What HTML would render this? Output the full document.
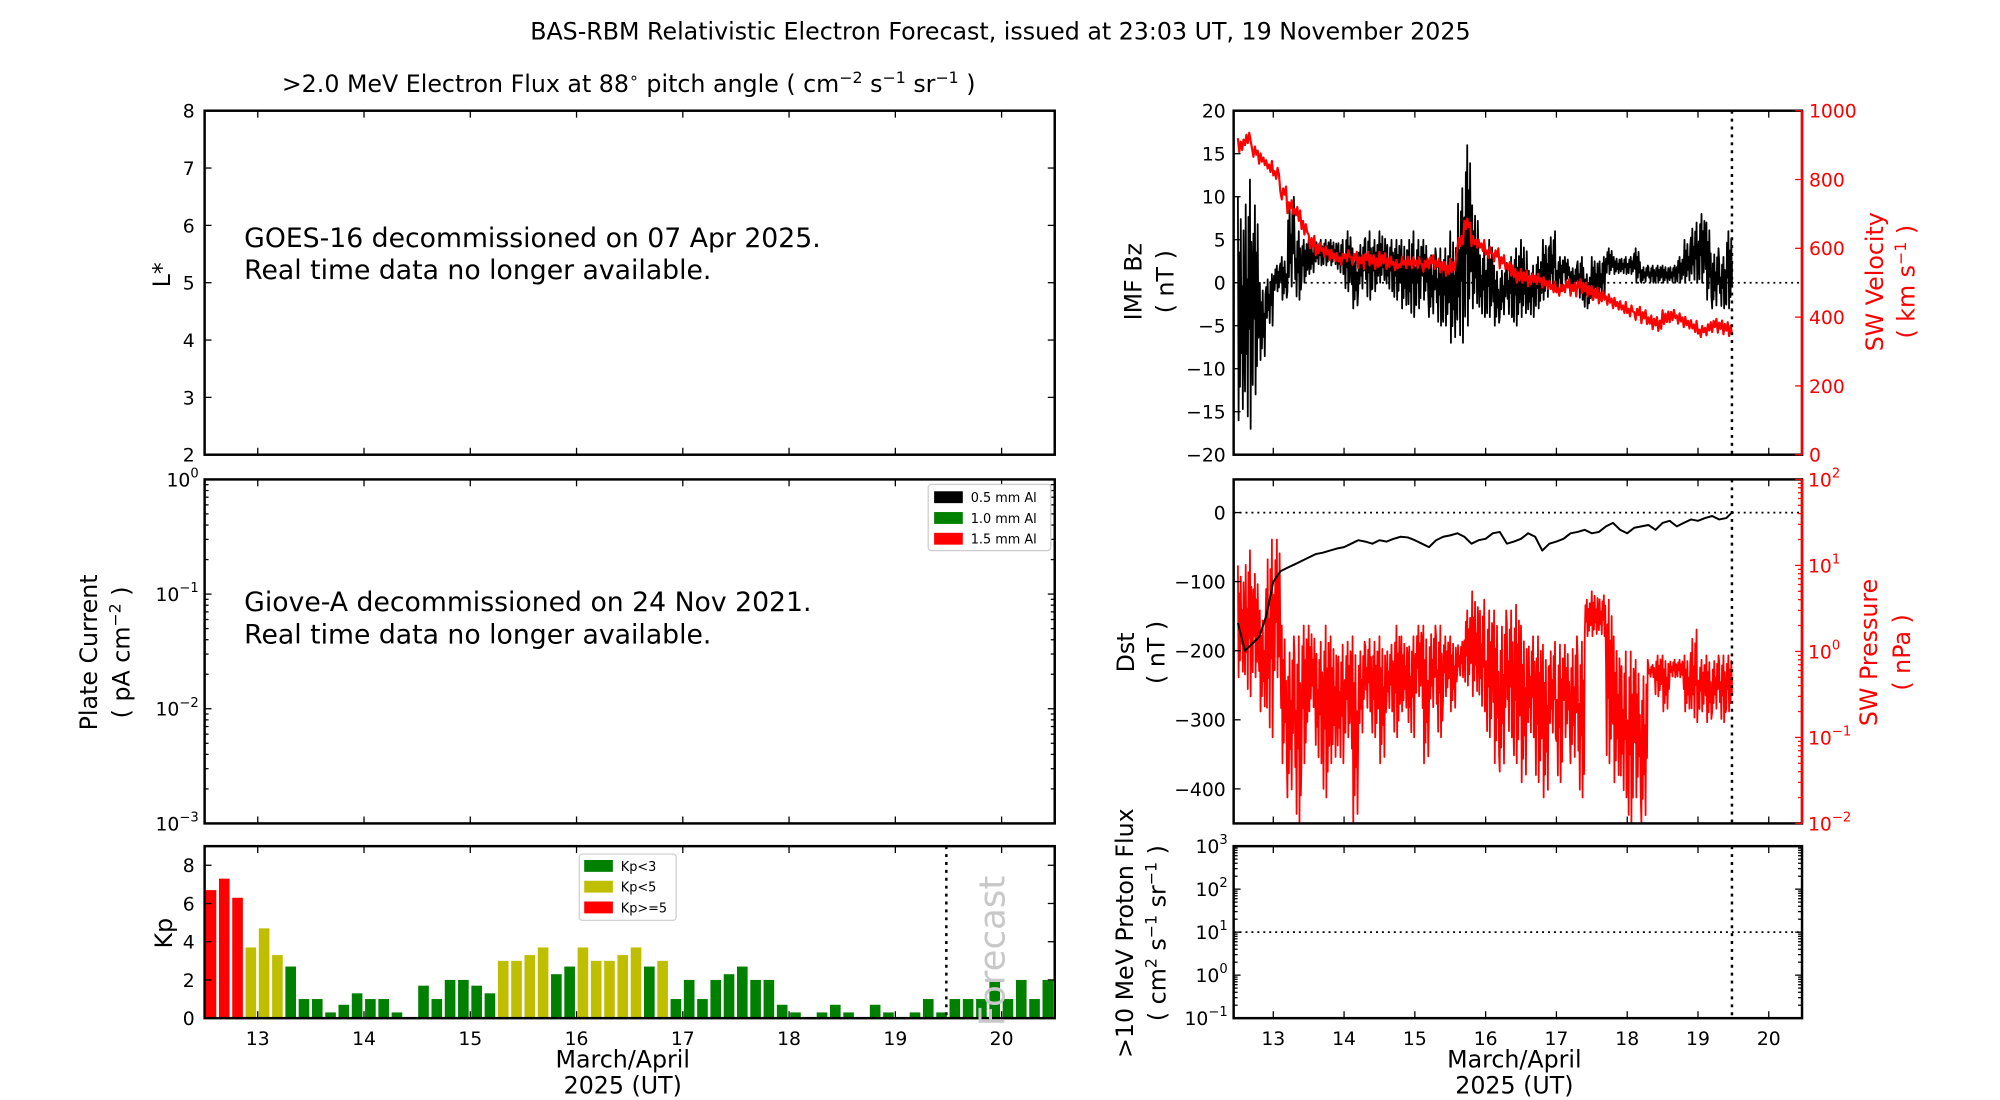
<!DOCTYPE html>
<html><head><meta charset="utf-8"><style>
html,body{margin:0;padding:0;background:#fff;width:2000px;height:1100px;overflow:hidden}
svg text{font-family:"DejaVu Sans","Liberation Sans",sans-serif}
</style></head><body>
<svg id="fig" width="2000" height="1100" viewBox="0 0 2000 1100" xmlns="http://www.w3.org/2000/svg">
<g transform="scale(0.9885)">
<text x="1012" y="40" font-size="24" text-anchor="middle">BAS-RBM Relativistic Electron Forecast, issued at 23:03 UT, 19 November 2025</text>
<text x="636" y="93" font-size="24" text-anchor="middle">&gt;2.0 MeV Electron Flux at 88<tspan dy="-9" font-size="16">∘</tspan><tspan dy="9"> pitch angle ( cm</tspan><tspan dy="-9" font-size="16">−2</tspan><tspan dy="9"> s</tspan><tspan dy="-9" font-size="16">−1</tspan><tspan dy="9"> sr</tspan><tspan dy="-9" font-size="16">−1</tspan><tspan dy="9"> )</tspan></text>
<g id="g"></g>
</g>
</svg>
<script>
// ---------- data ----------
const kpValues=[6.7,7.3,6.3,3.7,4.7,3.3,2.7,1,1,0.3,0.7,1.3,1,1,0.3,0,1.7,1,2,2,1.7,1.3,3,3,3.3,3.7,2.3,2.7,3.7,3,3,3.3,3.7,2.7,3,1,2,1,2,2.3,2.7,2,2,0.7,0.3,0,0.3,0.7,0.3,0,0.7,0.3,0,0.3,1,0.3,1,1,1,2,1,2,1,2];
const kpStart=12.5, kpStep=0.125;
const xTicks=[13,14,15,16,17,18,19,20];
const seriesStart=12.5, seriesStep=0.1;
const bzHi=[10,12,9,0,1,2,3,10,6,5,5,5,5,5,5,6,4,5,6,5,6,5,5,5,6,5,5,4,4,4,6,11,16,9,4,5,2,2,3,4,5,2,3,5,6,3,3,2,3,1,3,3,4,3,3,3,4,2,2,2,2,2,3,5,7,8,7,4,3,6,5];
const bzLo=[-16,-17,-13,-9,-5,-1,-2,-1,-2,0,1,2,2,2,1,-1,-3,-1,-2,-1,0,-1,-2,-3,-4,-3,-2,-4,-5,-5,-7,-7,-5,-3,-4,-4,-5,-4,-4,-5,-4,-4,-3,-2,-1,-1,0,-1,-2,-3,-2,-2,1,1,1,1,0,0,0,0,0,0,0,0,0,0,-2,-3,-3,-3,-3];
const velocity=[900,920,880,860,840,820,760,720,700,660,620,600,590,580,570,580,570,560,570,560,570,560,550,560,560,560,550,560,550,540,550,620,670,620,610,590,580,560,540,520,520,510,510,500,490,480,490,480,490,480,470,460,450,440,430,420,410,400,385,380,400,405,395,385,375,360,365,375,370,365,370];
const dst=[-160,-200,-190,-180,-150,-100,-85,-80,-75,-70,-65,-60,-58,-55,-52,-50,-45,-40,-42,-45,-40,-42,-38,-35,-36,-40,-45,-50,-40,-35,-33,-30,-35,-45,-40,-38,-30,-28,-45,-42,-38,-30,-35,-55,-45,-42,-38,-30,-28,-25,-30,-28,-20,-15,-25,-30,-22,-20,-18,-25,-15,-12,-20,-15,-10,-12,-8,-5,-10,-8,0];
const presHi=[10,15,8,3,20,20,2,1.5,1.5,2,2,1.3,2,1.5,1.2,1.3,1.5,1.3,1.4,1.3,1.5,1.2,2,1.5,1.5,2,2,2,2,1.5,1.5,1.3,3,5,4,3,3,3,3,3.5,2,1.5,1.5,1.2,1.3,1.2,1.2,1.5,1.3,4,5,4.5,4,1.5,1,1,0.8,0.8,0.7,0.9,0.9,0.8,0.8,0.9,1.8,0.8,0.9,0.9,0.9,0.9,0.9];
const presLo=[0.5,0.3,0.5,0.2,0.1,0.5,0.05,0.02,0.01,0.05,0.2,0.05,0.02,0.05,0.05,0.1,0.01,0.1,0.2,0.1,0.05,0.2,0.1,0.2,0.1,0.3,0.05,0.2,0.1,0.3,0.2,0.5,0.4,0.3,0.2,0.1,0.05,0.04,0.1,0.05,0.03,0.1,0.03,0.02,0.1,0.03,0.1,0.05,0.02,1.5,1.5,1.5,0.05,0.03,0.02,0.01,0.02,0.01,0.5,0.3,0.2,0.5,0.5,0.2,0.15,0.2,0.15,0.2,0.15,0.2,0.3];
const forecastT=19.48;
// ---------- helpers ----------
const NS="http://www.w3.org/2000/svg";
const G=document.getElementById('g');
const JIT=[1,0,0.75,0.15,0.9,0.3,0.6,0.05,0.85,0.4];
function el(tag,attrs,parent){const e=document.createElementNS(NS,tag);for(const k in attrs)e.setAttribute(k,attrs[k]);(parent||G).appendChild(e);return e;}
function txt(x,y,s,size,anchor,color,rot){const t=el('text',{x:x,y:y,'font-size':size,'text-anchor':anchor||'middle',fill:color||'#000'});if(rot)t.setAttribute('transform','rotate(-90 '+x+' '+y+')');t.textContent=s;return t;}
function lin(d0,d1,r0,r1){return v=>r0+(v-d0)/(d1-d0)*(r1-r0);}
function logs(d0,d1,r0,r1){return v=>r0+(Math.log10(Math.max(v,1e-9))-Math.log10(d0))/(Math.log10(d1)-Math.log10(d0))*(r1-r0);}
function supLabel(x,y,base,exp,size,color,anchor){const t=el('text',{x:x,y:y,'font-size':size,'text-anchor':anchor||'end',fill:color||'#000'});const a=el('tspan',{},t);a.textContent=base;const b=el('tspan',{dy:-9,'font-size':size*0.7},t);b.textContent=exp;return t;}
function frame(x0,y0,x1,y1,name){const r=el('rect',{x:x0,y:y0,width:x1-x0,height:y1-y0,fill:'none',stroke:'#000','stroke-width':2.5});}
function xTickMarks(sx,y0,y1,labels){xTicks.forEach(d=>{const x=sx(d);el('line',{x1:x,x2:x,y1:y1,y2:y1-7,stroke:'#000','stroke-width':1.3});el('line',{x1:x,x2:x,y1:y0,y2:y0+7,stroke:'#000','stroke-width':1.3});if(labels){const t=txt(x,y1+27,String(d),19);}});}
function yTick(x,y,side,len,color){el('line',{x1:x,x2:x+side*len,y1:y,y2:y,stroke:color||'#000','stroke-width':1.3});}
function polyline(pts,color,w,name){const p=el('polyline',{points:pts.map(p=>p[0].toFixed(1)+','+p[1].toFixed(1)).join(' '),fill:'none',stroke:color,'stroke-width':w,'stroke-linejoin':'round'});return p;}
function zig(hi,lo,sx,sy,isLog){const pts=[];const n=Math.min(hi.length,lo.length);let k=0;
for(let i=0;i<n;i++){const t=seriesStart+i*seriesStep;if(t>forecastT)break;
for(let j=0;j<10;j++){const tt=Math.min(t+j*0.01,forecastT);const f=JIT[(j+k)%10];let v;
if(isLog)v=Math.pow(10,Math.log10(lo[i])+f*(Math.log10(hi[i])-Math.log10(lo[i])));else v=lo[i]+f*(hi[i]-lo[i]);
pts.push([sx(tt),sy(v)]);}k+=3;}return pts;}

// ---------- LEFT PANELS ----------
const LX0=207,LX1=1067;
const lx=lin(12.5,20.5,LX0,LX1);
(function(){const y0=112,y1=460;const sy=lin(2,8,y1,y0);
frame(LX0,y0,LX1,y1,'flux-panel');
for(let v=2;v<=8;v++){yTick(LX0,sy(v),1,7);yTick(LX1,sy(v),-1,7);const t=txt(LX0-10,sy(v)+7,String(v),19,'end');}
xTickMarks(lx,y0,y1,false);
let t=txt(172,278,'L*',24,'middle','#000',true);
t=txt(247,250,'GOES-16 decommissioned on 07 Apr 2025.',27,'start');
t=txt(247,282,'Real time data no longer available.',27,'start');
})();
(function(){const y0=485,y1=833;const sy=logs(1e-3,1,y1,y0);
frame(LX0,y0,LX1,y1,'plate-current-panel');
[-3,-2,-1,0].forEach(e=>{const y=sy(Math.pow(10,e));yTick(LX0,y,1,7);yTick(LX1,y,-1,7);supLabel(LX0-6,y+7,'10',String(e).replace('-','−'),19);
if(e<0)for(let m=2;m<10;m++){const ym=sy(m*Math.pow(10,e));yTick(LX0,ym,1,4);yTick(LX1,ym,-1,4);}});
xTickMarks(lx,y0,y1,false);
let t=txt(98,660,'Plate Current',24,'middle','#000',true);
const t2=el('text',{x:131,y:660,'font-size':24,'text-anchor':'middle',transform:'rotate(-90 131 660)'});t2.innerHTML='( pA cm<tspan dy="-9" font-size="16">−2</tspan><tspan dy="9"> )</tspan>';
t=txt(247,618,'Giove-A decommissioned on 24 Nov 2021.',27,'start');
t=txt(247,651,'Real time data no longer available.',27,'start');
const lg=el('g',{});
el('rect',{x:939,y:490,width:124,height:67,fill:'#fff',stroke:'#ccc','stroke-width':1.2,rx:3},lg);
[['0.5 mm Al','#000'],['1.0 mm Al','#008000'],['1.5 mm Al','#ff0000']].forEach((a,i)=>{const r=el('rect',{x:945,y:497+i*21,width:29,height:12,fill:a[1]},lg);const tt=el('text',{x:982,y:508+i*21,'font-size':13},lg);tt.textContent=a[0];});
})();
(function(){const y0=856,y1=1030;const sy=lin(0,9,y1,y0);
kpValues.forEach((v,i)=>{const t=kpStart+i*kpStep;const c=v>=5?'#ff0000':(v>=3?'#bfbf00':'#008000');const x=lx(t+0.01);const w=lx(t+0.11)-x;
const b=el('rect',{x:x,y:sy(v),width:w,height:y1-sy(v),fill:c});

});
frame(LX0,y0,LX1,y1,'kp-panel');
[0,2,4,6,8].forEach(v=>{yTick(LX0,sy(v),1,7);yTick(LX1,sy(v),-1,7);const t=txt(LX0-10,sy(v)+7,String(v),19,'end');});
xTickMarks(lx,y0,y1,true);
const fx=lx(forecastT);const fl=el('line',{x1:fx,x2:fx,y1:y0,y2:y1,stroke:'#000','stroke-width':2.5,'stroke-dasharray':'3,5'});
let t=txt(1016,962,'Forecast',36,'middle','#c8c8c8',true);
t=txt(174,944,'Kp',24,'middle','#000',true);
t=txt(630,1080,'March/April',24);
t=txt(630,1106,'2025 (UT)',24);
const lg=el('g',{});
el('rect',{x:586,y:864,width:98,height:67,fill:'#fff',stroke:'#ccc','stroke-width':1.2,rx:3},lg);
[['Kp<3','#008000'],['Kp<5','#bfbf00'],['Kp>=5','#ff0000']].forEach((a,i)=>{const r=el('rect',{x:591,y:870+i*21,width:29,height:12,fill:a[1]},lg);const tt=el('text',{x:628,y:881+i*21,'font-size':13},lg);tt.textContent=a[0];});
})();

// ---------- RIGHT PANELS ----------
const RX0=1248,RX1=1823;
const rx=lin(12.44,20.47,RX0,RX1);
function fcLine(y0,y1){const fx=rx(forecastT);const l=el('line',{x1:fx,x2:fx,y1:y0,y2:y1,stroke:'#000','stroke-width':2.5,'stroke-dasharray':'3,5'});}
function zeroLine(y){const l=el('line',{x1:RX0,x2:RX1,y1:y,y2:y,stroke:'#000','stroke-width':1.8,'stroke-dasharray':'2,4'});}
(function(){const y0=112,y1=460;const sy=lin(-20,20,y1,y0);const sv=lin(0,1000,y1,y0);
zeroLine(sy(0));
polyline(zig(bzHi,bzLo,rx,sy,false),'#000',1.8,'imf-bz-line');
const vpts=[];velocity.forEach((v,i)=>{const t=seriesStart+i*seriesStep;if(t>forecastT)return;for(let j=0;j<5;j++){vpts.push([rx(Math.min(t+j*0.02,forecastT)),sv(v+(JIT[(i+j)%10]-0.5)*40)]);}});
polyline(vpts,'#ff0000',2.2,'sw-velocity-line');
fcLine(y0,y1);
frame(RX0,y0,RX1,y1,'imf-panel');
el('line',{x1:RX1,x2:RX1,y1:y0,y2:y1,stroke:'#ff0000','stroke-width':2.5});
[-20,-15,-10,-5,0,5,10,15,20].forEach(v=>{yTick(RX0,sy(v),1,7);const t=txt(RX0-8,sy(v)+7,String(v).replace('-','−'),19,'end');});
[0,200,400,600,800,1000].forEach(v=>{yTick(RX1,sv(v),-1,7,'#ff0000');const t=txt(RX1+7,sv(v)+7,String(v),19,'start','#ff0000');});
xTickMarks(rx,y0,y1,false);
let t=txt(1155,285,'IMF Bz',24,'middle','#000',true);
t=txt(1187,285,'( nT )',24,'middle','#000',true);
t=txt(1905,285,'SW Velocity',24,'middle','#ff0000',true);
const u=el('text',{x:1937,y:285,'font-size':24,'text-anchor':'middle',fill:'#ff0000',transform:'rotate(-90 1937 285)'});u.innerHTML='( km s<tspan dy="-9" font-size="16">−1</tspan><tspan dy="9"> )</tspan>';
})();
(function(){const y0=485,y1=833;const sy=lin(-450,48,y1,y0);const sp=logs(1e-2,1e2,y1,y0);
zeroLine(sy(0));
const clip=el('clipPath',{id:'cp2'});el('rect',{x:RX0,y:y0,width:RX1-RX0,height:y1-y0},clip);
const pl=polyline(zig(presHi,presLo,rx,sp,true),'#ff0000',1.8,'sw-pressure-line');pl.setAttribute('clip-path','url(#cp2)');
const dpts=[];dst.forEach((v,i)=>{const t=seriesStart+i*seriesStep;if(t<=forecastT+0.03)dpts.push([rx(Math.min(t,forecastT)),sy(v)]);});
polyline(dpts,'#000',2,'dst-line');
fcLine(y0,y1);
frame(RX0,y0,RX1,y1,'dst-panel');
el('line',{x1:RX1,x2:RX1,y1:y0,y2:y1,stroke:'#ff0000','stroke-width':2.5});
[0,-100,-200,-300,-400].forEach(v=>{yTick(RX0,sy(v),1,7);const t=txt(RX0-8,sy(v)+7,String(v).replace('-','−'),19,'end');});
[-2,-1,0,1,2].forEach(e=>{const y=sp(Math.pow(10,e));yTick(RX1,y,-1,7,'#ff0000');supLabel(RX1+6,y+7,'10',String(e).replace('-','−'),19,'#ff0000','start');if(e<2)for(let m=2;m<10;m++)yTick(RX1,sp(m*Math.pow(10,e)),-1,4,'#ff0000');});
xTickMarks(rx,y0,y1,false);
let t=txt(1147,660,'Dst',24,'middle','#000',true);
t=txt(1178,660,'( nT )',24,'middle','#000',true);
t=txt(1899,660,'SW Pressure',24,'middle','#ff0000',true);
t=txt(1932,660,'( nPa )',24,'middle','#ff0000',true);
})();
(function(){const y0=856,y1=1030;const sy=logs(0.1,1000,y1,y0);
zeroLine(sy(10));
fcLine(y0,y1);
frame(RX0,y0,RX1,y1,'proton-panel');
[-1,0,1,2,3].forEach(e=>{const y=sy(Math.pow(10,e));yTick(RX0,y,1,7);yTick(RX1,y,-1,7);supLabel(RX0-6,y+7,'10',String(e).replace('-','−'),19);if(e<3)for(let m=2;m<10;m++){yTick(RX0,sy(m*Math.pow(10,e)),1,4);yTick(RX1,sy(m*Math.pow(10,e)),-1,4);}});
xTickMarks(rx,y0,y1,true);
let t=txt(1146,944,'>10 MeV Proton Flux',24,'middle','#000',true);
const u=el('text',{x:1179,y:944,'font-size':24,'text-anchor':'middle',transform:'rotate(-90 1179 944)'});u.innerHTML='( cm<tspan dy="-9" font-size="16">2</tspan><tspan dy="9"> s</tspan><tspan dy="-9" font-size="16">−1</tspan><tspan dy="9"> sr</tspan><tspan dy="-9" font-size="16">−1</tspan><tspan dy="9"> )</tspan>';
t=txt(1532,1080,'March/April',24);
t=txt(1532,1106,'2025 (UT)',24);
})();
</script>
</body></html>
